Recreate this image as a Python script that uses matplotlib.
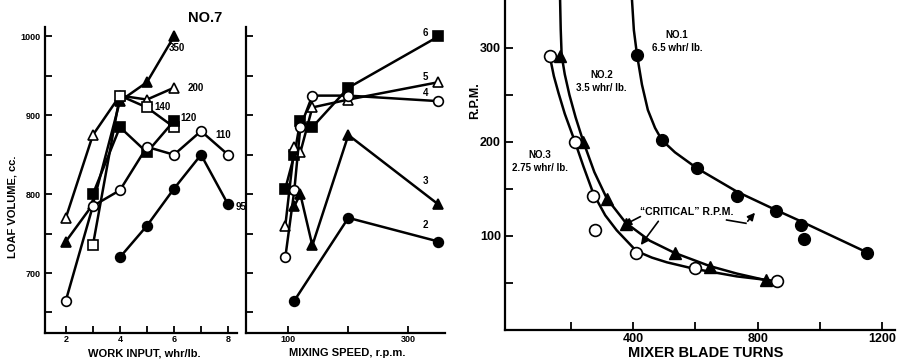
import matplotlib.pyplot as plt

plt.rcParams['font.family'] = ['Liberation Sans', 'DejaVu Sans']
plt.rcParams['font.weight'] = 'bold'

NARROW = ['Liberation Sans Narrow', 'Liberation Sans', 'DejaVu Sans']

# ---- NO.7 left: loaf volume vs work input, one line per mixing speed (r.p.m.)
work_350 = [2, 3, 4, 5, 6]
vol_350 = [740, 787, 918, 942, 1000]
work_200 = [2, 3, 4, 5, 6]
vol_200 = [770, 875, 925, 920, 935]
work_140 = [3, 4, 5, 6]
vol_140 = [735, 925, 910, 885]
work_120 = [3, 4, 5, 6]
vol_120 = [800, 885, 853, 893]
work_110 = [2, 3, 4, 5, 6, 7, 8]
vol_110 = [665, 785, 805, 860, 850, 880, 850]
work_95 = [4, 5, 6, 7, 8]
vol_95 = [720, 760, 807, 850, 787]

# ---- NO.7 middle: loaf volume vs mixing speed, one line per work input (whr/lb.)
speed_6 = [95, 110, 120, 140, 200, 350]
vol_w6 = [807, 850, 893, 885, 935, 1000]
speed_5 = [95, 110, 120, 140, 200, 350]
vol_w5 = [760, 860, 853, 910, 920, 942]
speed_4 = [95, 110, 120, 140, 200, 350]
vol_w4 = [720, 805, 885, 925, 925, 918]
speed_3 = [110, 120, 140, 200, 350]
vol_w3 = [785, 800, 735, 875, 787]
speed_2 = [110, 200, 350]
vol_w2 = [665, 770, 740]

# ---- right: r.p.m. vs mixer blade turns
no1_turns = [412, 492, 605, 734, 858, 939, 949, 1152]
no1_rpm = [292, 202, 172, 142, 127, 112, 97, 82]
no2_turns = [165, 240, 315, 376, 533, 646, 826]
no2_rpm = [291, 200, 139, 113, 82, 67, 53]
no3_turns = [132, 213, 272, 277, 410, 597, 861]
no3_rpm = [291, 200, 142, 106, 82, 66, 52]

# hand drawn curves, vertices
no1_curve_t = [396, 402, 412, 428, 447, 470, 492, 534, 605, 734, 856, 936, 1148]
no1_curve_r = [351, 319, 293, 261, 234, 215, 202, 189, 172, 147, 128, 116, 83]
no2_curve_t = [165, 167, 170, 180, 195, 215, 240, 275, 315, 376, 453, 533, 646, 733, 826]
no2_curve_r = [351, 320, 292, 272, 250, 226, 200, 168, 140, 114, 95, 82, 68, 60, 53]
no3_curve_t = [132, 145, 160, 180, 213, 240, 272, 310, 347, 410, 460, 508, 597, 733, 861]
no3_curve_r = [291, 270, 252, 230, 200, 174, 145, 122, 106, 84, 77, 72, 65, 57, 52]

W, H = 898, 360
fig = plt.figure(figsize=(W / 100, H / 100), dpi=100)


def box(x0, y0, x1, y1):
    return [x0 / W, 1 - y1 / H, (x1 - x0) / W, (y1 - y0) / H]


def px_text(x, y, s, **kw):
    fig.text(x / W, 1 - y / H, s, ha='center', va='center', **kw)


def style(ax):
    ax.spines[['top', 'right']].set_visible(False)
    for s in ('left', 'bottom'):
        ax.spines[s].set_linewidth(1.6)
    ax.tick_params(direction='in', length=5, width=1.3, pad=3)


def series(ax, x, y, marker, filled, ms=7):
    ax.plot(x, y, color='black', lw=1.8, marker=marker, ms=ms,
            mfc='black' if filled else 'white', mec='black', mew=1.2,
            clip_on=False, zorder=3)


# left panel
ax1 = fig.add_axes(box(45, 27, 237, 333))
style(ax1)
ax1.tick_params(axis='x', pad=1.5)
series(ax1, work_350, vol_350, '^', True)
series(ax1, work_200, vol_200, '^', False)
series(ax1, work_140, vol_140, 's', False, 6.5)
series(ax1, work_120, vol_120, 's', True, 6.5)
series(ax1, work_110, vol_110, 'o', False)
series(ax1, work_95, vol_95, 'o', True)
ax1.set_xlim(1.23, 8.33)
ax1.set_ylim(624, 1012)
ax1.set_xticks(range(2, 9))
ax1.set_xticklabels(['2', '', '4', '', '6', '', '8'], family=NARROW, fontsize=6.5)
ax1.set_yticks(range(650, 1001, 50))
ax1.set_yticklabels(['', '700', '', '800', '', '900', '', '1000'], family=NARROW, fontsize=6.5)
for txt, x, y in [('350', 5.8, 986), ('200', 6.52, 935), ('140', 5.27, 910),
                  ('120', 6.23, 896), ('110', 7.53, 875), ('95', 8.27, 784)]:
    ax1.text(x, y, txt, family=NARROW, fontsize=7, va='center', ha='left')

# middle panel
ax2 = fig.add_axes(box(246, 27, 445, 333))
style(ax2)
ax2.tick_params(axis='x', pad=1.5)
series(ax2, speed_6, vol_w6, 's', True, 6.5)
series(ax2, speed_5, vol_w5, '^', False)
series(ax2, speed_4, vol_w4, 'o', False)
series(ax2, speed_3, vol_w3, '^', True)
series(ax2, speed_2, vol_w2, 'o', True)
ax2.set_xlim(29.5, 361)
ax2.set_ylim(624, 1012)
ax2.set_xticks([100, 200, 300])
ax2.set_xticklabels(['100', '', '300'], family=NARROW, fontsize=6.5)
ax2.set_yticks(range(650, 1001, 50))
ax2.set_yticklabels([])
for txt, y in [('6', 1005), ('5', 949), ('4', 928), ('3', 817), ('2', 761)]:
    ax2.text(333, y, txt, family=NARROW, fontsize=7, va='center', ha='right')

px_text(205, 18, 'NO.7', family=NARROW, fontsize=10.5)
px_text(144, 353, 'WORK INPUT, whr/lb.', family=NARROW, fontsize=8)
px_text(347, 353, 'MIXING SPEED, r.p.m.', family=NARROW, fontsize=8)
px_text(13, 207, 'LOAF VOLUME, cc.', family=NARROW, fontsize=8, rotation=90)

# right panel
ax3 = fig.add_axes(box(505, 0, 895, 330))
style(ax3)
ax3.tick_params(length=6, labelsize=9)
ax3.tick_params(axis='x', pad=2)
ax3.plot(no1_curve_t, no1_curve_r, color='black', lw=1.8, clip_on=False)
ax3.plot(no2_curve_t, no2_curve_r, color='black', lw=1.8, clip_on=False)
ax3.plot(no3_curve_t, no3_curve_r, color='black', lw=1.8, clip_on=False)
ax3.plot(no1_turns, no1_rpm, 'o', color='black', ms=8.5, zorder=3)
ax3.plot(no2_turns, no2_rpm, '^', color='black', ms=8, zorder=3)
ax3.plot(no3_turns, no3_rpm, 'o', mfc='white', mec='black', mew=1.2, ms=8.5, zorder=3)
ax3.set_xlim(-12, 1241)
ax3.set_ylim(0, 351)
ax3.set_xticks(range(200, 1201, 200))
ax3.set_xticklabels(['', '400', '', '800', '', '1200'])
ax3.set_yticks(range(50, 301, 50))
ax3.set_yticklabels(['', '100', '', '200', '', '300'])

px_text(706, 353, 'MIXER BLADE TURNS', fontsize=10.5)
px_text(475, 101, 'R.P.M.', fontsize=9, rotation=90)

for x, y, l1, l2 in [(541, 314, 'NO.1', '6.5 whr/ lb.'), (299, 271, 'NO.2', '3.5 whr/ lb.'),
                     (100, 186, 'NO.3', '2.75 whr/ lb.')]:
    ax3.text(x, y, l1, fontsize=7, ha='center', va='center')
    ax3.text(x, y - 14, l2, fontsize=7, ha='center', va='center')

ax3.text(422, 125.5, '\u201cCRITICAL\u201d R.P.M.', fontsize=7.6, ha='left', va='center')
arrow = dict(arrowstyle='-|>', color='black', lw=1.2, mutation_scale=11)
ax3.annotate('', xy=(361, 110), xytext=(431, 122), arrowprops=arrow)
ax3.annotate('', xy=(419, 88), xytext=(486, 118), arrowprops=arrow)
ax3.plot([700, 762], [117, 113.5], color='black', lw=1.2)
ax3.annotate('', xy=(797, 127), xytext=(762, 113.5), arrowprops=arrow)

fig.savefig('out.png', dpi=100)
